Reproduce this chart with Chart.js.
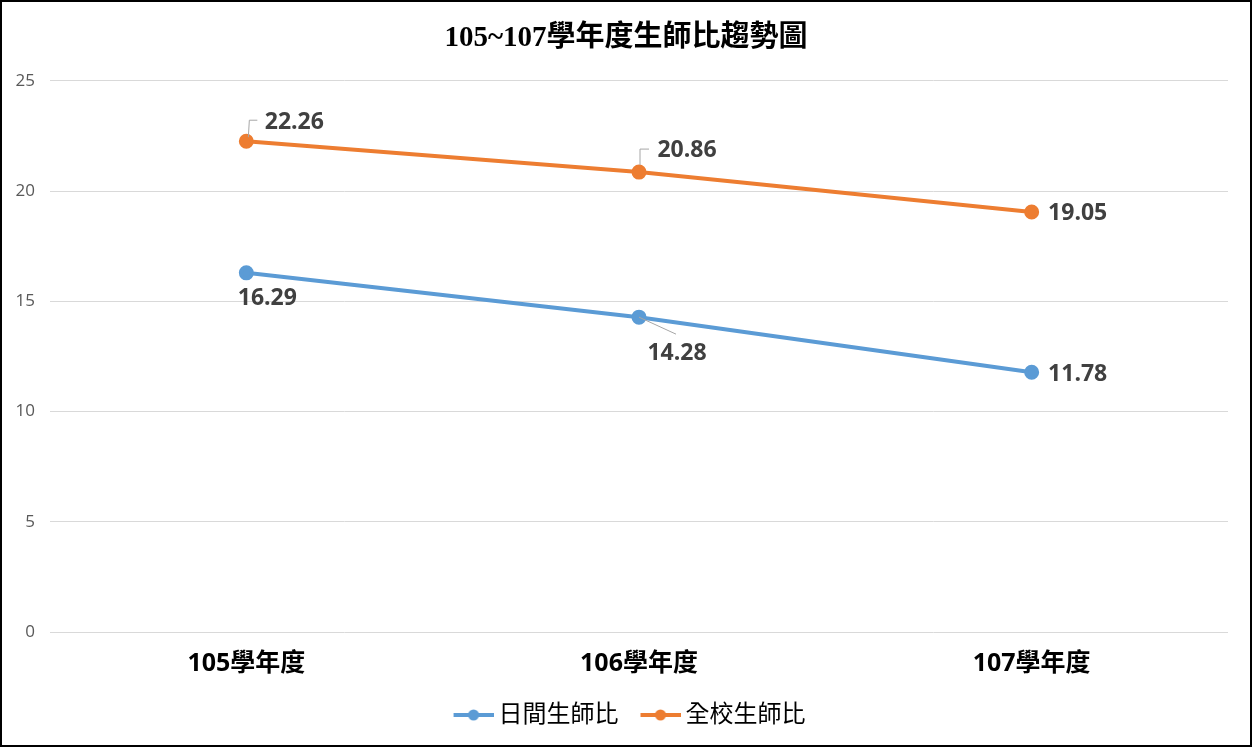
<!DOCTYPE html>
<html>
<head>
<meta charset="utf-8">
<script src="https://cdn.jsdelivr.net/npm/chart.js@4"></script>
<style>
  html, body { margin: 0; padding: 0; background: #fff; }
  #wrap { width: 1252px; height: 747px; box-sizing: border-box; border: 2px solid #000; }
</style>
</head>
<body>
<div id="wrap"><canvas id="c" width="1248" height="743"></canvas></div>
<script>
// data
const years = ['105學年度', '106學年度', '107學年度'];
const dayRatio = [16.29, 14.28, 11.78];
const allRatio = [22.26, 20.86, 19.05];
const seriesNames = ['日間生師比', '全校生師比'];
const yTicks = [0, 5, 10, 15, 20, 25];

const BLUE = '#5b9bd5', ORANGE = '#ed7d31';
const CJK = '"Open Sans", "Noto Sans CJK TC", sans-serif';

// label placement (offset from point) + optional leader line
const labelPos = [
  [ {dx:21, dy:26}, {dx:38, dy:36, lead:[[0,0],[37,17]]}, {dx:46, dy:2} ],
  [ {dx:48, dy:-19, lead:[[2,-4],[3,-21],[11,-21]]}, {dx:48, dy:-22, lead:[[1,-7],[1,-23],[10,-23]]}, {dx:46, dy:1} ]
];

// legend marker: line + dot, shifted right so the text sits close to it
function legendIcon(color){
  const cv = document.createElement('canvas');
  cv.width = 54; cv.height = 12;
  const g = cv.getContext('2d');
  g.strokeStyle = color; g.lineWidth = 4;
  g.beginPath(); g.moveTo(14, 6); g.lineTo(54, 6); g.stroke();
  g.fillStyle = color;
  g.beginPath(); g.arc(34, 6, 5.5, 0, Math.PI*2); g.fill();
  return cv;
}

const labelsPlugin = {
  id: 'valLabels',
  afterDatasetsDraw(chart){
    const ctx = chart.ctx;
    ctx.save();
    chart.data.datasets.forEach((ds, i) => {
      const meta = chart.getDatasetMeta(i);
      meta.data.forEach((pt, j) => {
        const p = labelPos[i][j];
        if (p.lead){
          ctx.strokeStyle = '#a6a6a6'; ctx.lineWidth = 1;
          ctx.beginPath();
          p.lead.forEach((q, k) => {
            const x = pt.x + q[0], y = pt.y + q[1];
            k ? ctx.lineTo(x, y) : ctx.moveTo(x, y);
          });
          ctx.stroke();
        }
        ctx.fillStyle = '#404040';
        ctx.font = 'bold 23px "Open Sans", sans-serif';
        ctx.textAlign = 'center';
        ctx.textBaseline = 'middle';
        ctx.fillText(ds.data[j].toFixed(2), pt.x + p.dx, pt.y + p.dy);
      });
    });
    ctx.restore();
  }
};

new Chart(document.getElementById('c'), {
  type: 'line',
  data: {
    labels: years,
    datasets: [
      { label: seriesNames[0], data: dayRatio, borderColor: BLUE, backgroundColor: BLUE,
        borderWidth: 4, pointRadius: 5.5, pointHoverRadius: 5.5, tension: 0 },
      { label: seriesNames[1], data: allRatio, borderColor: ORANGE, backgroundColor: ORANGE,
        borderWidth: 4, pointRadius: 5.5, pointHoverRadius: 5.5, tension: 0 }
    ]
  },
  options: {
    responsive: false,
    animation: false,
    layout: { padding: { left: 0, right: 0, top: 6, bottom: 8 } },
    plugins: {
      title: {
        display: true,
        text: '105~107學年度生師比趨勢圖',
        color: '#000',
        font: { family: '"Liberation Serif", "Noto Sans CJK TC", serif', size: 29, weight: 'bold' },
        padding: { top: 13, bottom: 25 }
      },
      legend: {
        position: 'bottom',
        labels: {
          usePointStyle: true,
          pointStyleWidth: 40,
          color: '#000',
          font: { family: CJK, size: 24 },
          padding: 15,
          generateLabels(chart){
            return chart.data.datasets.map((ds, i) => ({
              text: ds.label, pointStyle: legendIcon(ds.borderColor),
              fillStyle: ds.borderColor, strokeStyle: ds.borderColor,
              lineWidth: 0, datasetIndex: i, hidden: false
            }));
          }
        }
      },
      tooltip: { enabled: false }
    },
    scales: {
      x: {
        offset: true,
        grid: { display: false },
        border: { display: false },
        ticks: { color: '#000', font: { family: CJK, size: 25, weight: 'bold' }, padding: 9 }
      },
      y: {
        min: 0, max: 25,
        afterBuildTicks(ax){ ax.ticks = yTicks.map(v => ({ value: v })); },
        afterFit(ax){ ax.width = 48; },
        grid: { color: '#d9d9d9', lineWidth: 1, drawTicks: false },
        border: { display: false },
        ticks: { color: '#595959', font: { family: CJK, size: 17 }, padding: 15 }
      },
      // empty spacer on the right so title/legend stay centred on the canvas
      yR: {
        position: 'right',
        afterFit(ax){ ax.width = 22; },
        grid: { display: false },
        border: { display: false },
        ticks: { display: false }
      }
    }
  },
  plugins: [labelsPlugin]
});
</script>
</body>
</html>
